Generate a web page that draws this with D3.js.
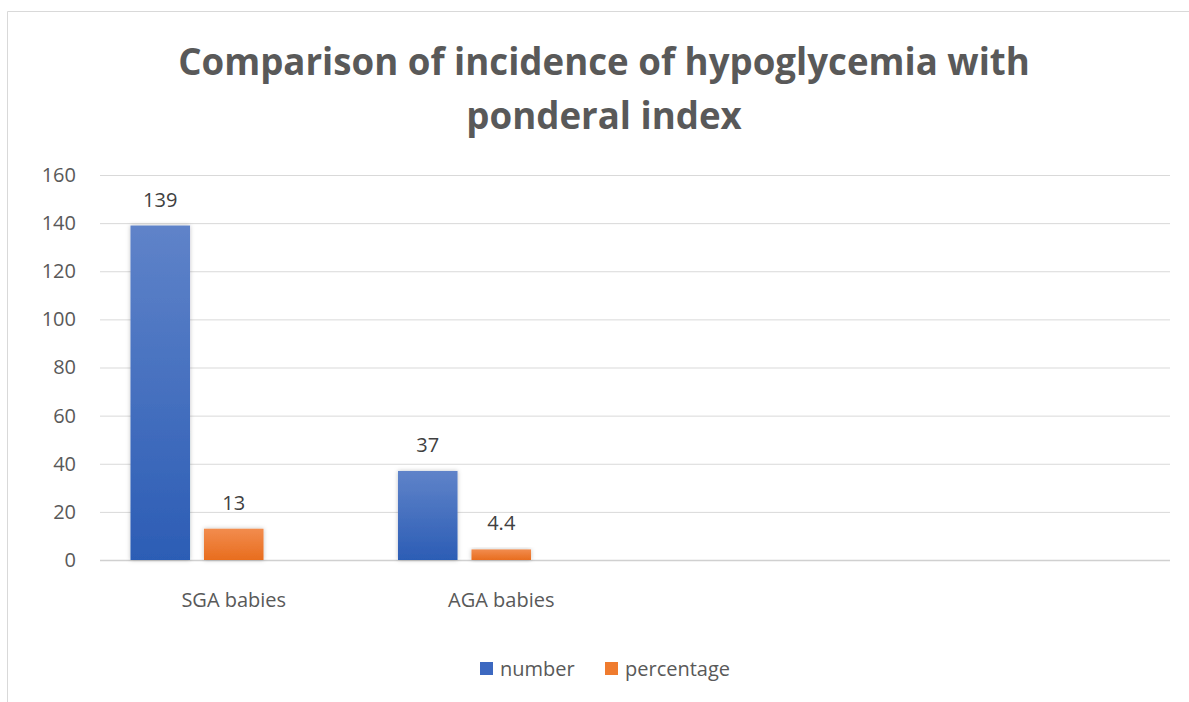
<!DOCTYPE html>
<html lang="en">
<head>
<meta charset="UTF-8">
<title>Comparison of incidence of hypoglycemia with ponderal index</title>
<style>
  body { margin: 0; background: #fff; }
  text { font-family: "Open Sans", "Noto Sans", sans-serif; }
</style>
</head>
<body>
<script src="https://cdn.jsdelivr.net/npm/d3@7/dist/d3.min.js"></script>
<script>
// data
var categories = ["SGA babies", "AGA babies", "", ""];
var seriesNames = ["number", "percentage"];
var numberValues = [139, 37];
var percentageValues = [13, 4.4];
var yTicks = [0, 20, 40, 60, 80, 100, 120, 140, 160];
var titleLines = ["Comparison of incidence of hypoglycemia with", "ponderal index"];

var width = 1189, height = 702;
var margin = {top: 175, left: 100, right: 19, bottom: 142};
var plotW = width - margin.left - margin.right;
var plotH = height - margin.top - margin.bottom;

var svg = d3.select('body').append('svg')
    .attr('width', width)
    .attr('height', height);

var defs = svg.append('defs');
function grad(id, top, bottom) {
  var g = defs.append('linearGradient').attr('id', id)
      .attr('x1', 0).attr('y1', 0).attr('x2', 0).attr('y2', 1);
  g.append('stop').attr('offset', '0%').attr('stop-color', top);
  g.append('stop').attr('offset', '100%').attr('stop-color', bottom);
}
grad('gBlue', '#5f83c9', '#2c5db5');
grad('gOrange', '#f28c4e', '#e86d1e');
var shadow = defs.append('filter').attr('id', 'shadow')
    .attr('x', '-20%').attr('y', '-20%').attr('width', '140%').attr('height', '140%');
shadow.append('feDropShadow').attr('dx', 0).attr('dy', 0)
    .attr('stdDeviation', 2).attr('flood-color', '#000').attr('flood-opacity', 0.25);

// frame
svg.append('path')
    .attr('d', 'M7.5,' + height + 'V11.5H' + width)
    .attr('fill', 'none').attr('stroke', '#d9d9d9').attr('stroke-width', 1);

// title
var title = svg.append('g');
titleLines.forEach(function(t, i) {
  title.append('text')
      .attr('x', 604).attr('y', 75 + i * 54)
      .attr('text-anchor', 'middle')
      .attr('font-weight', 'bold')
      .attr('font-size', '34px')
      .attr('fill', '#595959')
      .text(t);
});
// fit first line to reference width
var t0 = title.select('text').node();
var len = t0.getComputedTextLength();
var fs = 34 * 852 / len;
title.selectAll('text').attr('font-size', fs + 'px');

var g = svg.append('g')
    .attr('transform', 'translate(' + margin.left + ',' + margin.top + ')');

var x0 = d3.scaleBand()
    .domain(d3.range(categories.length))
    .range([0, plotW]);
var bw = x0.bandwidth();
var x1 = d3.scaleBand()
    .domain([0, 1, 2])
    .range([bw * 0.114, bw * 0.886])
    .paddingInner(0.19);

var y = d3.scaleLinear().domain([0, 160]).range([plotH, 0]);

// gridlines
var yAxis = d3.axisLeft(y).tickValues(yTicks).tickSize(-plotW).tickPadding(24);
var ya = g.append('g').call(yAxis);
ya.select('.domain').remove();
ya.selectAll('.tick line')
    .attr('stroke', function(d) { return d === 0 ? '#d0d0d0' : '#d9d9d9'; })
    .attr('stroke-width', function(d) { return d === 0 ? 1.5 : 1; });
ya.selectAll('.tick text')
    .attr('font-size', '20px')
    .attr('fill', '#595959')
    .attr('font-family', '"Open Sans", sans-serif');

// x labels
var xAxis = d3.axisBottom(x0).tickSize(0).tickPadding(33)
    .tickFormat(function(i) { return categories[i]; });
var xa = g.append('g').attr('transform', 'translate(0,' + plotH + ')').call(xAxis);
xa.select('.domain').remove();
xa.selectAll('.tick text')
    .attr('font-size', '20px')
    .attr('fill', '#595959')
    .attr('font-family', '"Open Sans", sans-serif');

// bars
var series = [
  {name: seriesNames[0], values: numberValues, fill: 'url(#gBlue)'},
  {name: seriesNames[1], values: percentageValues, fill: 'url(#gOrange)'}
];
series.forEach(function(s, si) {
  var sg = g.append('g');
  sg.selectAll('rect').data(s.values).enter().append('rect')
      .attr('x', function(d, i) { return x0(i) + x1(si); })
      .attr('y', function(d) { return y(d); })
      .attr('width', x1.bandwidth())
      .attr('height', function(d) { return plotH - y(d); })
      .attr('fill', s.fill)
      .attr('filter', 'url(#shadow)');
  sg.selectAll('text').data(s.values).enter().append('text')
      .attr('x', function(d, i) { return x0(i) + x1(si) + x1.bandwidth() / 2; })
      .attr('y', function(d) { return y(d) - 19; })
      .attr('text-anchor', 'middle')
      .attr('font-size', '20px')
      .attr('fill', '#404040')
      .text(function(d) { return d; });
});

// legend
var legendItems = [
  {name: seriesNames[0], color: '#3c68c0', x: 480},
  {name: seriesNames[1], color: '#ef7b2e', x: 605}
];
var lg = svg.append('g');
legendItems.forEach(function(d) {
  lg.append('rect').attr('x', d.x).attr('y', 662).attr('width', 13).attr('height', 13)
      .attr('fill', d.color);
  lg.append('text').attr('x', d.x + 20).attr('y', 676)
      .attr('font-size', '20px').attr('fill', '#595959')
      .text(d.name);
});
</script>
</body>
</html>
